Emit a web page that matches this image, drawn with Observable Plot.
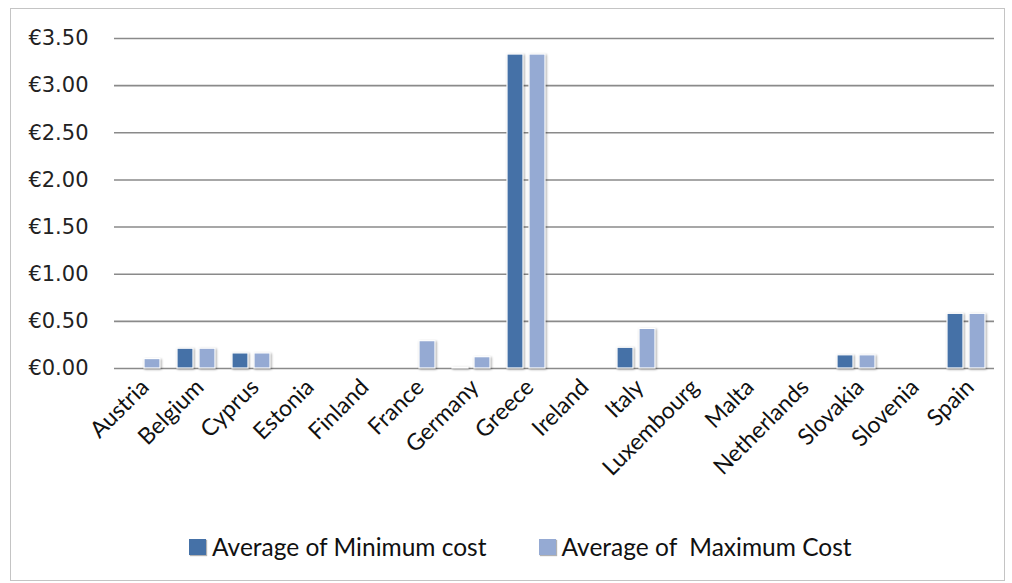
<!DOCTYPE html>
<html>
<head>
<meta charset="utf-8">
<script src="https://cdn.jsdelivr.net/npm/d3@7"></script>
<script src="https://cdn.jsdelivr.net/npm/@observablehq/plot@0.6"></script>
<style>
  html, body { margin: 0; padding: 0; background: #fff; }
  #frame {
    position: absolute; left: 10px; top: 8px; width: 993px; height: 571px;
    border: 1px solid #c4c4c4; background: #fff;
  }
  #chart svg { display: block; overflow: visible; }
  #chart g[aria-label="bar"] rect { filter: drop-shadow(1.2px 1.2px 1.2px rgba(0,0,0,0.35)); }
  #legend {
    position: absolute; left: 178px; top: 523px;
    display: flex; align-items: center;
    font-family: Lato, "Open Sans", sans-serif; font-size: 24.5px; color: #111;
    white-space: pre;
  }
  .item { display: flex; align-items: center; }
  .swatch { width: 17px; height: 16px; margin-right: 6px; box-shadow: 1px 1px 1px rgba(0,0,0,0.3); }
</style>
</head>
<body>
<div id="frame">
  <div id="chart"></div>
  <div id="legend"></div>
</div>
<script>
// Average cost per country, in euros
const countries = ["Austria", "Belgium", "Cyprus", "Estonia", "Finland", "France", "Germany", "Greece",
  "Ireland", "Italy", "Luxembourg", "Malta", "Netherlands", "Slovakia", "Slovenia", "Spain"];
const seriesNames = ["Average of Minimum cost", "Average of  Maximum Cost"];
const minCost = [0, 0.21, 0.16, 0, 0, 0, 0.01, 3.33, 0, 0.22, 0, 0, 0, 0.14, 0, 0.58];
const maxCost = [0.10, 0.21, 0.16, 0, 0, 0.29, 0.12, 3.33, 0, 0.42, 0, 0, 0, 0.14, 0, 0.58];
const yTicks = [0, 0.5, 1, 1.5, 2, 2.5, 3, 3.5];
const colors = ["#4571A7", "#95AAD3"];

// One row per country and series; every country keeps its facet
const rows = countries.flatMap((country, i) => [
  {country, series: seriesNames[0], value: minCost[i]},
  {country, series: seriesNames[1], value: maxCost[i]}
]);

const chart = Plot.plot({
  width: 993,
  height: 500,
  marginTop: 29,
  marginLeft: 102,
  marginRight: 10,
  marginBottom: 141,
  fx: {domain: countries, padding: 0, label: null},
  x: {domain: seriesNames, paddingInner: 0.26, paddingOuter: 0.33, axis: null},
  y: {domain: [0, 3.5], ticks: yTicks, label: null},
  color: {domain: seriesNames, range: colors},
  marks: [
    Plot.ruleY(yTicks, {stroke: "#8a8a8a", strokeWidth: 1.6}),
    Plot.barY(rows, {
      fx: "country", x: "series", y: "value", fill: "series",
      stroke: "white", strokeWidth: 1.2, filter: d => d.value > 0
    }),
    // y axis only once, on the leftmost facet
    Plot.axisY({
      ticks: yTicks, tickSize: 0, tickPadding: 26, label: null, facetAnchor: "left",
      tickFormat: d => "€" + d.toFixed(2),
      fontSize: 21, fontFamily: "DejaVu Sans", fill: "#222"
    }),
    Plot.axisFx({
      anchor: "bottom", tickSize: 0, tickPadding: 15, dx: 3, tickRotate: -45, label: null,
      fontSize: 23, fontFamily: "Lato", fill: "#111"
    })
  ]
});
document.getElementById("chart").append(chart);

// Legend below the plot
const legend = document.getElementById("legend");
seriesNames.forEach((name, i) => {
  const item = document.createElement("div");
  item.className = "item";
  if (i > 0) item.style.marginLeft = "52px";
  const sw = document.createElement("span");
  sw.className = "swatch";
  sw.style.background = colors[i];
  const label = document.createElement("span");
  label.textContent = name;
  item.append(sw, label);
  legend.append(item);
});
</script>
</body>
</html>
